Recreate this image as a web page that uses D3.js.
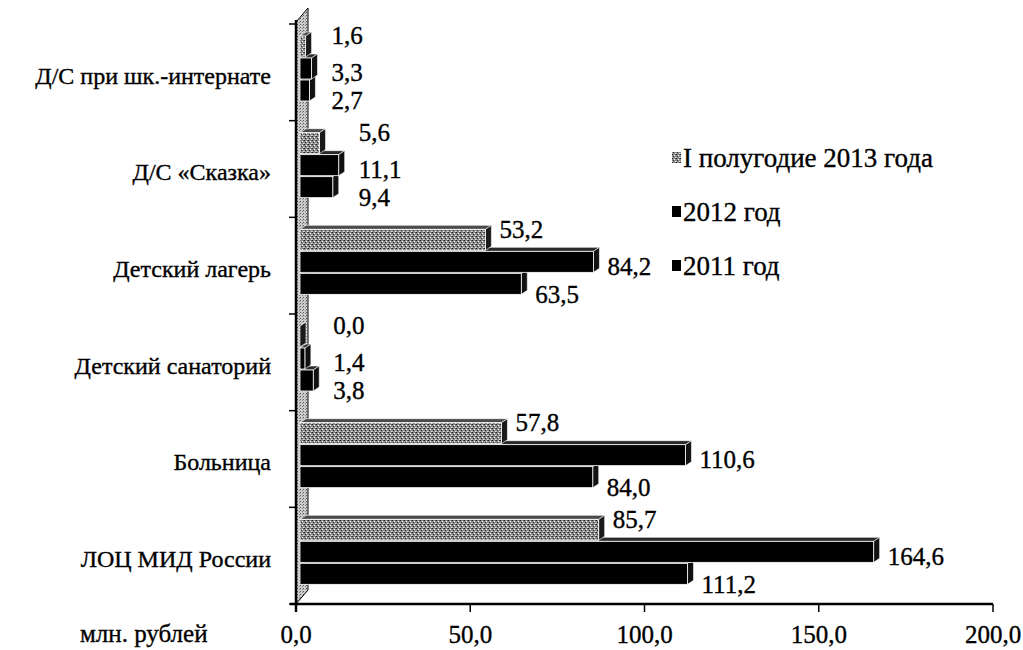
<!DOCTYPE html>
<html>
<head>
<meta charset="utf-8">
<script src="https://cdn.jsdelivr.net/npm/d3@7"></script>
<style>
  body { margin: 0; background: #fff; }
  svg text { font-family: "Liberation Serif", Tinos, "Times New Roman", Times, "DejaVu Serif", serif; }
</style>
</head>
<body>
<svg id="chart" width="1023" height="650"></svg>
<script>
const categories = ['Д/С при шк.-интернате', 'Д/С «Сказка»', 'Детский лагерь', 'Детский санаторий', 'Больница', 'ЛОЦ МИД России'];
const half2013 = [1.6, 5.6, 53.2, 0.0, 57.8, 85.7];
const year2012 = [3.3, 11.1, 84.2, 1.4, 110.6, 164.6];
const year2011 = [2.7, 9.4, 63.5, 3.8, 84.0, 111.2];
const seriesNames = ['I полугодие 2013 года', '2012 год', '2011 год'];
const xTicks = [0, 50, 100, 150, 200];

const series = [half2013, year2012, year2011];
const svg = d3.select('#chart');
const fmt = d3.formatLocale({decimal: ',', thousands: ' ', grouping: [3], currency: ['', '']}).format('.1f');

const x = d3.scaleLinear().domain([0, 200]).range([296, 993]);
const y = d3.scaleBand().domain(categories).range([24, 604]);

// scanned print look: text slightly heavier
const txt = size => sel => sel.attr('font-size', size).attr('fill', '#000').attr('stroke', '#000').attr('stroke-width', 0.35);

/* stipple pattern for the 2013 bars and the wall */
const defs = svg.append('defs');
const pat = defs.append('pattern').attr('id', 'stip').attr('width', 4).attr('height', 4).attr('patternUnits', 'userSpaceOnUse');
pat.append('rect').attr('width', 4).attr('height', 4).attr('fill', '#8a8a8a');
[[0, 0, '#222'], [2, 1, '#fff'], [1, 2, '#333'], [3, 3, '#ddd'], [3, 0, '#555'], [0, 3, '#bbb']].forEach(p => {
  pat.append('rect').attr('x', p[0]).attr('y', p[1]).attr('width', 1).attr('height', 1).attr('fill', p[2]);
});
const pat2 = defs.append('pattern').attr('id', 'wall').attr('width', 3).attr('height', 3).attr('patternUnits', 'userSpaceOnUse');
pat2.append('rect').attr('width', 3).attr('height', 3).attr('fill', '#ccc');
pat2.append('rect').attr('x', 0).attr('y', 0).attr('width', 1).attr('height', 1).attr('fill', '#555');
pat2.append('rect').attr('x', 2).attr('y', 1).attr('width', 1).attr('height', 1).attr('fill', '#888');

/* wall */
const x0 = x(0);
svg.append('polygon')
  .attr('points', `${x0},604 ${x0},22 ${x0 + 12},8 ${x0 + 12},590`)
  .attr('fill', 'url(#wall)').attr('stroke', '#000').attr('stroke-width', 1);
svg.append('line').attr('x1', x0).attr('x2', x0).attr('y1', 20).attr('y2', 612)
  .attr('stroke', '#000').attr('stroke-width', 2.5);

/* y ticks */
const bounds = categories.map(c => y(c)).concat([y.range()[1]]);
svg.selectAll('.ytick').data(bounds).enter().append('line')
  .attr('x1', x0 - 7).attr('x2', x0).attr('y1', d => d).attr('y2', d => d)
  .attr('stroke', '#000').attr('stroke-width', 1.5);

/* bars */
const barH = 21, gap = 1, dx = 6, dy = -4, shift = 4;
const fronts = ['url(#stip)', '#000', '#000'];
const tops = ['#4a4a4a', '#2a2a2a', '#2a2a2a'];
const sides = ['#1a1a1a', '#111', '#111'];
const labelDy = [-11, 4, 10];

for (let ci = categories.length - 1; ci >= 0; ci--) {
  const c = categories[ci];
  const groupMax = d3.max(series, s => s[ci]);
  for (let si = series.length - 1; si >= 0; si--) {
    const v = series[si][ci];
    const yy = y(c) + 12 + si * (barH + gap);
    const xs = x0 + shift, xe = x(v) + shift;
    const g = svg.append('g');
    g.append('polygon')
      .attr('points', `${xs},${yy} ${xs + dx},${yy + dy} ${xe + dx},${yy + dy} ${xe},${yy}`)
      .attr('fill', tops[si]).attr('stroke', '#fff').attr('stroke-width', 0.6);
    g.append('polygon')
      .attr('points', `${xe},${yy} ${xe + dx},${yy + dy} ${xe + dx},${yy + barH + dy} ${xe},${yy + barH}`)
      .attr('fill', sides[si]).attr('stroke', '#fff').attr('stroke-width', 0.6);
    g.append('rect')
      .attr('x', xs).attr('y', yy).attr('width', Math.max(0, xe - xs)).attr('height', barH)
      .attr('fill', fronts[si]).attr('stroke', '#fff').attr('stroke-width', 0.8);
    const lx = groupMax < 20 ? x(groupMax) + 24 : x(v) + 18;
    svg.append('text')
      .attr('x', lx).attr('y', yy + barH / 2 + labelDy[si])
      .attr('dy', '0.35em').call(txt(25))
      .text(fmt(v));
  }
}

/* x axis */
svg.append('line').attr('x1', x0 - 6).attr('x2', x(200)).attr('y1', 604).attr('y2', 604)
  .attr('stroke', '#000').attr('stroke-width', 2.5);
svg.selectAll('.xtick').data(xTicks).enter().append('line')
  .attr('x1', d => x(d)).attr('x2', d => x(d)).attr('y1', 604).attr('y2', 612)
  .attr('stroke', '#000').attr('stroke-width', 1.5);
svg.selectAll('.xlab').data(xTicks).enter().append('text')
  .attr('x', d => x(d)).attr('y', 643).attr('text-anchor', 'middle').call(txt(25))
  .text(d => fmt(d));
svg.append('text').attr('x', 80).attr('y', 642).call(txt(25)).text('млн. рублей');

/* category labels */
svg.selectAll('.cat').data(categories).enter().append('text')
  .attr('x', 271).attr('y', d => y(d) + y.bandwidth() / 2 + 3)
  .attr('dy', '0.35em').attr('text-anchor', 'end').call(txt(24))
  .text(d => d);

/* legend */
const leg = svg.append('g').attr('transform', 'translate(672,158)');
seriesNames.forEach((n, i) => {
  leg.append('rect').attr('x', 0).attr('y', i * 54 - 6).attr('width', 9).attr('height', 11)
    .attr('fill', fronts[i]);
  leg.append('text').attr('x', 11).attr('y', i * 54).attr('dy', '0.35em').call(txt(27)).text(n);
});
</script>
</body>
</html>
